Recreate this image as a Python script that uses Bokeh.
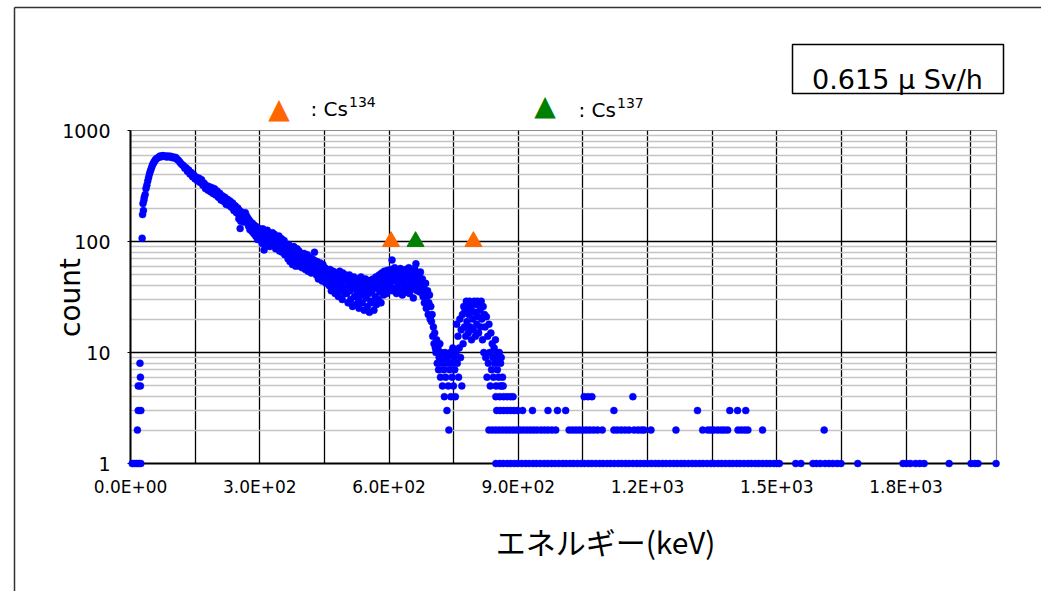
import math
from bokeh.plotting import figure
from bokeh.models import Range1d, FixedTicker, SingleIntervalTicker
from bokeh.core.properties import value
from bokeh.embed import file_html
from bokeh.resources import INLINE

# ---------------------------------------------------------------- data ----
# low-energy threshold channels (keV, counts)
threshold = [(4, 1), (9, 1), (14, 1), (19, 1), (24, 1), (16, 2), (18, 3), (24, 3),
             (18, 5), (23, 5), (23, 6), (22, 8)]

# low-energy hump and upper Compton continuum (keV, counts)
hump = [(27, 107), (28, 175), (29, 220), (30, 190), (31, 235), (32, 250), (34, 265),
        (36, 300), (38, 322), (40, 350), (42, 378), (44, 405), (46, 430), (48, 452),
        (50, 476), (52, 498), (54, 515), (56, 530), (58, 546), (60, 556), (63, 566),
        (66, 578), (69, 590), (72, 580), (75, 594), (78, 586), (81, 590), (84, 576),
        (87, 588), (90, 580), (93, 586), (96, 570), (99, 578), (102, 564), (105, 572),
        (108, 552), (111, 540), (114, 522), (117, 505), (120, 492), (123, 482),
        (126, 458), (129, 462), (132, 430), (135, 440), (138, 405), (141, 418),
        (144, 384), (147, 398), (150, 366), (153, 380), (156, 350), (159, 372),
        (162, 340), (165, 360), (168, 322), (171, 335), (174, 300), (177, 318),
        (180, 290), (183, 312), (186, 280), (189, 305), (192, 270), (195, 298),
        (198, 262), (201, 285), (204, 250), (207, 272), (210, 236), (213, 258),
        (216, 230), (219, 250), (222, 216), (225, 240), (228, 212), (231, 232),
        (234, 204), (237, 222), (240, 190), (243, 210), (246, 182), (249, 200)]

# from 250 keV on the spectrum is given per 1.5 keV channel: (first channel keV, counts)
CHANNEL_KEV = 1.5
band_250 = (250.0, [178, 160, 190, 131, 152, 184, 170, 158, 176, 150, 166, 182, 156, 170,
                    148, 162, 138, 156, 128, 150, 142, 124, 146, 134, 118, 140, 128, 112,
                    136, 122, 104, 132, 116, 108, 126, 104, 118, 96, 130, 110, 84, 122,
                    100, 114, 92, 126, 106, 98, 118, 90, 112, 102, 94, 120, 108, 92, 116,
                    98, 86, 110, 94, 104, 88, 112, 82, 100, 92, 106, 80, 96, 88, 102, 76,
                    94, 90, 76, 86, 70, 94, 80, 66, 88, 74, 84, 62, 78, 90, 68, 80, 60,
                    76, 86, 64, 72, 82, 60, 74, 66, 78, 58])
band_400 = (400.0, [72, 60, 78, 64, 56, 70, 62, 76, 54, 66, 72, 58, 64, 52, 70, 60, 56, 68,
                    80, 54, 62, 50, 66, 56, 46, 60, 52, 64, 48, 58, 44, 62, 54, 46, 58, 50,
                    42, 56, 48, 54, 52, 40, 56, 46, 36, 50, 42, 54, 38, 48, 34, 52, 44, 40,
                    50, 32, 46, 54, 36, 42, 48, 30, 52, 38, 44, 34, 50])
band_500 = (500.5, [44, 34, 48, 28, 40, 50, 36, 30, 46, 42, 26, 38, 48, 32, 44, 27, 40, 35,
                    46, 30, 25, 42, 38, 48, 33, 28, 44, 36, 24, 40, 46, 31, 38, 26, 44, 34,
                    23, 40, 29, 45, 36, 28, 46, 24, 40, 32, 48, 27, 38, 44, 30, 50, 35, 42,
                    28, 52, 38, 46, 33, 54, 40, 36, 48, 34, 55, 42, 38])
band_600 = (601.0, [50, 40, 56, 46, 68, 36, 54, 44, 58, 38, 50, 34, 46, 55, 40, 52, 36, 57,
                    44, 48, 33, 54, 42, 50, 38, 56, 35, 47, 53, 40, 58, 34, 45, 51, 37, 55,
                    42, 31, 49, 57, 39, 63, 44, 36, 52, 40, 48, 35, 53, 42, 38, 46, 32, 40,
                    28, 36, 42, 25, 32, 36, 22, 28, 33, 20, 26, 19, 22, 14, 17, 12, 15, 11])
band_709 = (709.0, [10, 13, 8, 11, 7, 9, 12, 6, 10, 8, 5, 9, 7, 4, 10, 6, 8, 3, 9, 5,
                    2, 7, 10, 4, 8, 6, 11, 5, 9, 7, 4, 10, 18, 8, 14, 6, 11, 20, 9, 16,
                    5, 22, 12, 26, 17, 24, 14, 29, 19, 27, 15, 22, 29, 17, 25, 13, 28, 20,
                    16, 29, 23, 14, 27, 18, 29, 21, 15, 28, 24, 17, 29, 20, 13, 26, 10, 22,
                    17, 9, 21, 6, 14, 8, 18, 10, 5, 15, 7, 12, 9, 6, 11, 8, 13, 5, 10, 7,
                    9, 6, 10, 5, 8, 9, 5, 6, 5])

# high-energy tail: channel energies (keV) grouped by their count
tail_4 = [848, 857, 866, 874, 882, 888, 1053, 1062, 1071, 1166]
tail_3 = [850, 858, 866, 874, 882, 890, 898, 910, 933, 969, 991, 1010, 1122, 1316,
          1391, 1409, 1428]
tail_2 = [832, 840, 848, 856, 864, 872, 880, 888, 896, 904, 912, 920, 928, 936, 944,
          953, 961, 969, 978, 987, 1018, 1026, 1034, 1042, 1050, 1058, 1066, 1075,
          1084, 1095, 1122, 1130, 1139, 1148, 1157, 1169, 1178, 1186, 1192, 1208, 1266,
          1328, 1340, 1347, 1354, 1363, 1371, 1378, 1386, 1410, 1418, 1426, 1433, 1467,
          1610]
tail_1 = [848, 857, 865, 874, 882, 891, 899, 908, 917, 925, 934, 942, 951, 960, 968,
          977, 985, 994, 1003, 1011, 1020, 1028, 1037, 1046, 1054, 1063, 1071, 1080,
          1089, 1097, 1106, 1114, 1123, 1132, 1140, 1149, 1157, 1166, 1175, 1183, 1192,
          1200, 1209, 1218, 1226, 1235, 1243, 1252, 1261, 1269, 1278, 1286, 1295, 1304,
          1312, 1321, 1329, 1338, 1347, 1355, 1364, 1372, 1381, 1390, 1398, 1407, 1415,
          1424, 1433, 1441, 1450, 1458, 1467, 1476, 1484, 1493, 1500, 1506, 1544, 1556,
          1584, 1592, 1601, 1612, 1621, 1630, 1640, 1649, 1688, 1793, 1801, 1810, 1822,
          1832, 1842, 1900, 1951, 1960, 1967, 2009]

# photopeak markers (keV) drawn at a fixed count level
cs134_lines = [604.7, 795.9]
cs137_lines = [661.7]
marker_count = 100

x_tick_values = [0, 300, 600, 900, 1200, 1500, 1800]
x_tick_labels = ["0.0E+00", "3.0E+02", "6.0E+02", "9.0E+02", "1.2E+03", "1.5E+03", "1.8E+03"]
y_tick_values = [1, 10, 100, 1000]
y_tick_labels = ["1", "10", "100", "1000"]

dose_rate = "0.615 μ Sv/h"
x_title = "エネルギー(keV)"
y_title = "count"

# ------------------------------------------------------------- assemble ----
energy = [e for e, _ in threshold + hump]
count = [c for _, c in threshold + hump]
for start, counts in (band_250, band_400, band_500, band_600, band_709):
    energy += [start + CHANNEL_KEV * i for i in range(len(counts))]
    count += counts
for level, row in ((4, tail_4), (3, tail_3), (2, tail_2), (1, tail_1)):
    energy += row
    count += [level] * len(row)

LATIN = "DejaVu Sans"
CJK = "Noto Sans CJK JP"

X_START, X_END = 0, 2010
Y_START, Y_END = 1, 1000
# frame edges in page pixels
F_LEFT, F_RIGHT, F_TOP, F_BOTTOM = 130, 996, 130, 463
W, H = 1041, 591

p = figure(width=W, height=H, output_backend="svg", toolbar_location=None,
           x_range=Range1d(X_START, X_END), y_range=Range1d(Y_START, Y_END),
           y_axis_type="log",
           min_border_left=F_LEFT, min_border_right=W - F_RIGHT,
           min_border_top=F_TOP, min_border_bottom=H - F_BOTTOM,
           background_fill_color="white", border_fill_color="white",
           outline_line_color="#8c8c8c", outline_line_width=1.2)


def at_x(px):
    """page pixel column -> keV"""
    return X_START + (px - F_LEFT) * (X_END - X_START) / (F_RIGHT - F_LEFT)


def at_y(py):
    """page pixel row -> count on the log axis"""
    lo, hi = math.log10(Y_START), math.log10(Y_END)
    return 10 ** (lo + (F_BOTTOM - py) * (hi - lo) / (F_BOTTOM - F_TOP))


# grid: vertical lines every 150 keV, black decades, grey sub-decades
minor_y = [m * d for d in (1, 10, 100) for m in range(2, 10)]
p.xgrid.ticker = SingleIntervalTicker(interval=150)
p.xgrid.grid_line_color = "black"
p.xgrid.grid_line_width = 1.3
p.ygrid.ticker = FixedTicker(ticks=y_tick_values, minor_ticks=minor_y)
p.ygrid.grid_line_color = "black"
p.ygrid.grid_line_width = 1.6
p.ygrid.minor_grid_line_color = "#c4c4c4"
p.ygrid.minor_grid_line_width = 1.6

p.xaxis.ticker = FixedTicker(ticks=x_tick_values)
p.xaxis.major_label_overrides = dict(zip(x_tick_values, x_tick_labels))
p.yaxis.ticker = FixedTicker(ticks=y_tick_values)
p.yaxis.major_label_overrides = dict(zip(y_tick_values, y_tick_labels))

for ax in (p.xaxis[0], p.yaxis[0]):
    ax.axis_line_color = "black"
    ax.axis_line_width = 2
    ax.major_tick_line_color = "black"
    ax.major_tick_in = 0
    ax.minor_tick_in = 0
    ax.minor_tick_out = 0
    ax.major_label_text_font = LATIN
    ax.major_label_text_color = "black"
p.xaxis.major_tick_out = 0
p.xaxis.major_label_standoff = 13
p.xaxis.major_label_text_font_size = "17px"
p.yaxis.major_tick_out = 3
p.yaxis.major_label_standoff = 17
p.yaxis.major_label_text_font_size = "19px"

# spectrum points
p.scatter(energy, count, size=7, fill_color="#0000ff", line_color="#0000ff",
          line_width=0.5, level="overlay")

# photopeak markers
ORANGE, GREEN = "#ff6600", "#008000"
p.scatter(cs134_lines, [marker_count] * len(cs134_lines), marker="triangle", size=17,
          fill_color=ORANGE, line_color=ORANGE, level="overlay")
p.scatter(cs137_lines, [marker_count] * len(cs137_lines), marker="triangle", size=17,
          fill_color=GREEN, line_color=GREEN, level="overlay")


def text(px, py, s, font, size, color="black", align="left", baseline="alphabetic",
         angle=0.0):
    p.text(x=[at_x(px)], y=[at_y(py)], text=[s], text_font=value(font),
           text_font_size=value(size), text_color=color, text_align=align,
           text_baseline=baseline, angle=angle, level="overlay")


# outer chart border
p.segment(x0=[at_x(14), at_x(14)], y0=[at_y(7), at_y(7)],
          x1=[at_x(14), at_x(W + 20)], y1=[at_y(H + 20), at_y(7)],
          line_color="#333333", line_width=1.5, level="overlay")

# dose-rate box
p.quad(left=[at_x(792)], right=[at_x(1003)], top=[at_y(44)], bottom=[at_y(93)],
       fill_color="white", line_color="black", line_width=1.5, level="overlay")
text(897, 79, dose_rate, LATIN, "27px", align="center")

# key for the photopeak markers
text(278.5, 107.5, "▲", LATIN, "28px", color=ORANGE, align="center")
text(310, 108.5, ": Cs", LATIN, "20px")
text(348.5, 101.5, "134", LATIN, "14px")
text(544.5, 104.5, "▲", LATIN, "28px", color=GREEN, align="center")
text(578, 109.5, ": Cs", LATIN, "20px")
text(616.5, 102.5, "137", LATIN, "14px")

# axis titles
text(605, 540, x_title, CJK, "30px", align="center", baseline="middle")
text(70, 297, y_title, LATIN, "28px", align="center", baseline="middle",
     angle=math.pi / 2)

open("out.html", "w").write(file_html(p, INLINE))
